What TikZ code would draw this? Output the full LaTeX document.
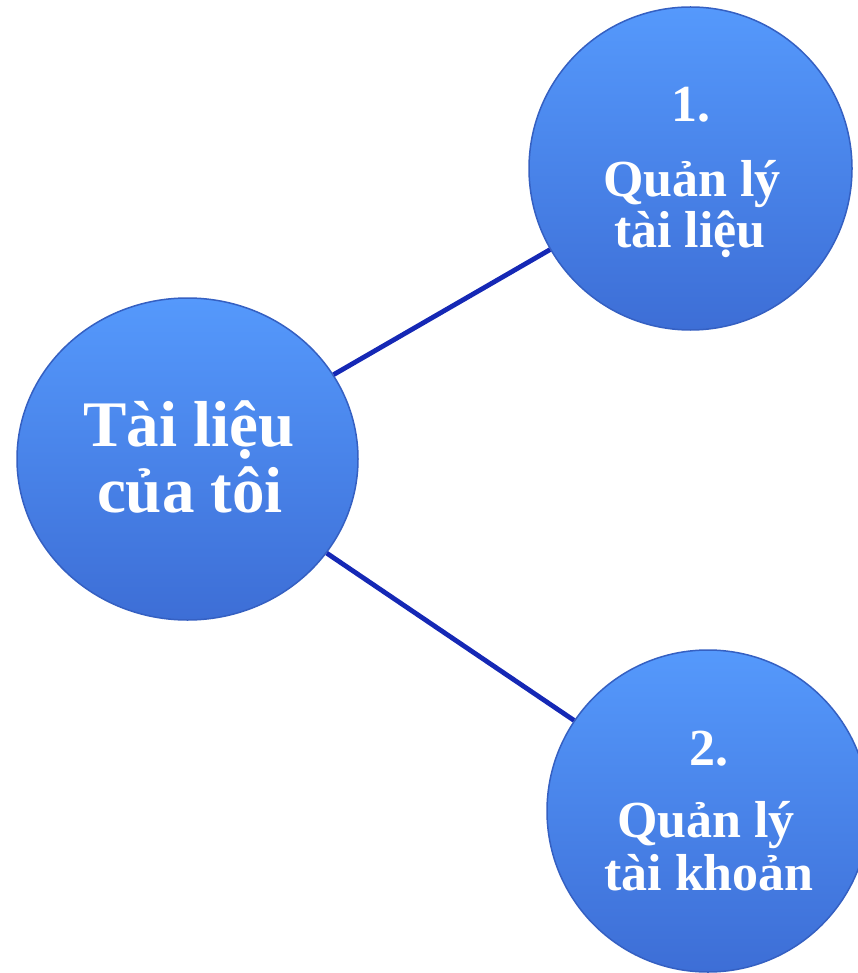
\documentclass[tikz,border=0pt]{standalone}
\usepackage{fontspec}
\setmainfont{Liberation Serif}
\usetikzlibrary{shapes.geometric}
\definecolor{balltop}{HTML}{5599FC}
\definecolor{ballbot}{HTML}{3D6ED6}
\definecolor{ballrim}{HTML}{3560C2}
\definecolor{linkblue}{HTML}{1528B5}
\tikzset{
  ball/.style={inner sep=0pt, top color=balltop, bottom color=ballbot, draw=ballrim, line width=1.5pt},
  link/.style={draw=linkblue, line width=4.8pt},
  bigtxt/.style={text=white, font=\bfseries\fontsize{65}{66}\selectfont, anchor=base, inner sep=0pt},
  smalltxt/.style={text=white, font=\bfseries\fontsize{52}{53}\selectfont, anchor=base, inner sep=0pt}
}
\begin{document}
\begin{tikzpicture}[x=1pt,y=-1pt]
\useasboundingbox (0,0) rectangle (857,973);
\node[ball, ellipse, minimum width=341pt, minimum height=322pt] (L) at (187.5,459) {};
\node[ball, circle, minimum size=323pt] (T) at (690.5,168.5) {};
\node[ball, circle, minimum size=322pt] (B) at (708,811) {};
\draw[link] (L) -- (T);
\draw[link] (L) -- (B);
\node[bigtxt] (la) at (189,446) {Tài liệu};
\node[bigtxt] (lb) at (190,512) {của tôi};
\node[smalltxt] (ta) at (691,122) {1.};
\node[smalltxt] (tb) at (692,197) {Quản lý};
\node[smalltxt] (tc) at (690,248) {tài liệu};
\node[smalltxt] (ba) at (709,765) {2.};
\node[smalltxt] (bb) at (706,837) {Quản lý};
\node[smalltxt] (bc) at (709,890) {tài khoản};
\end{tikzpicture}
\end{document}
